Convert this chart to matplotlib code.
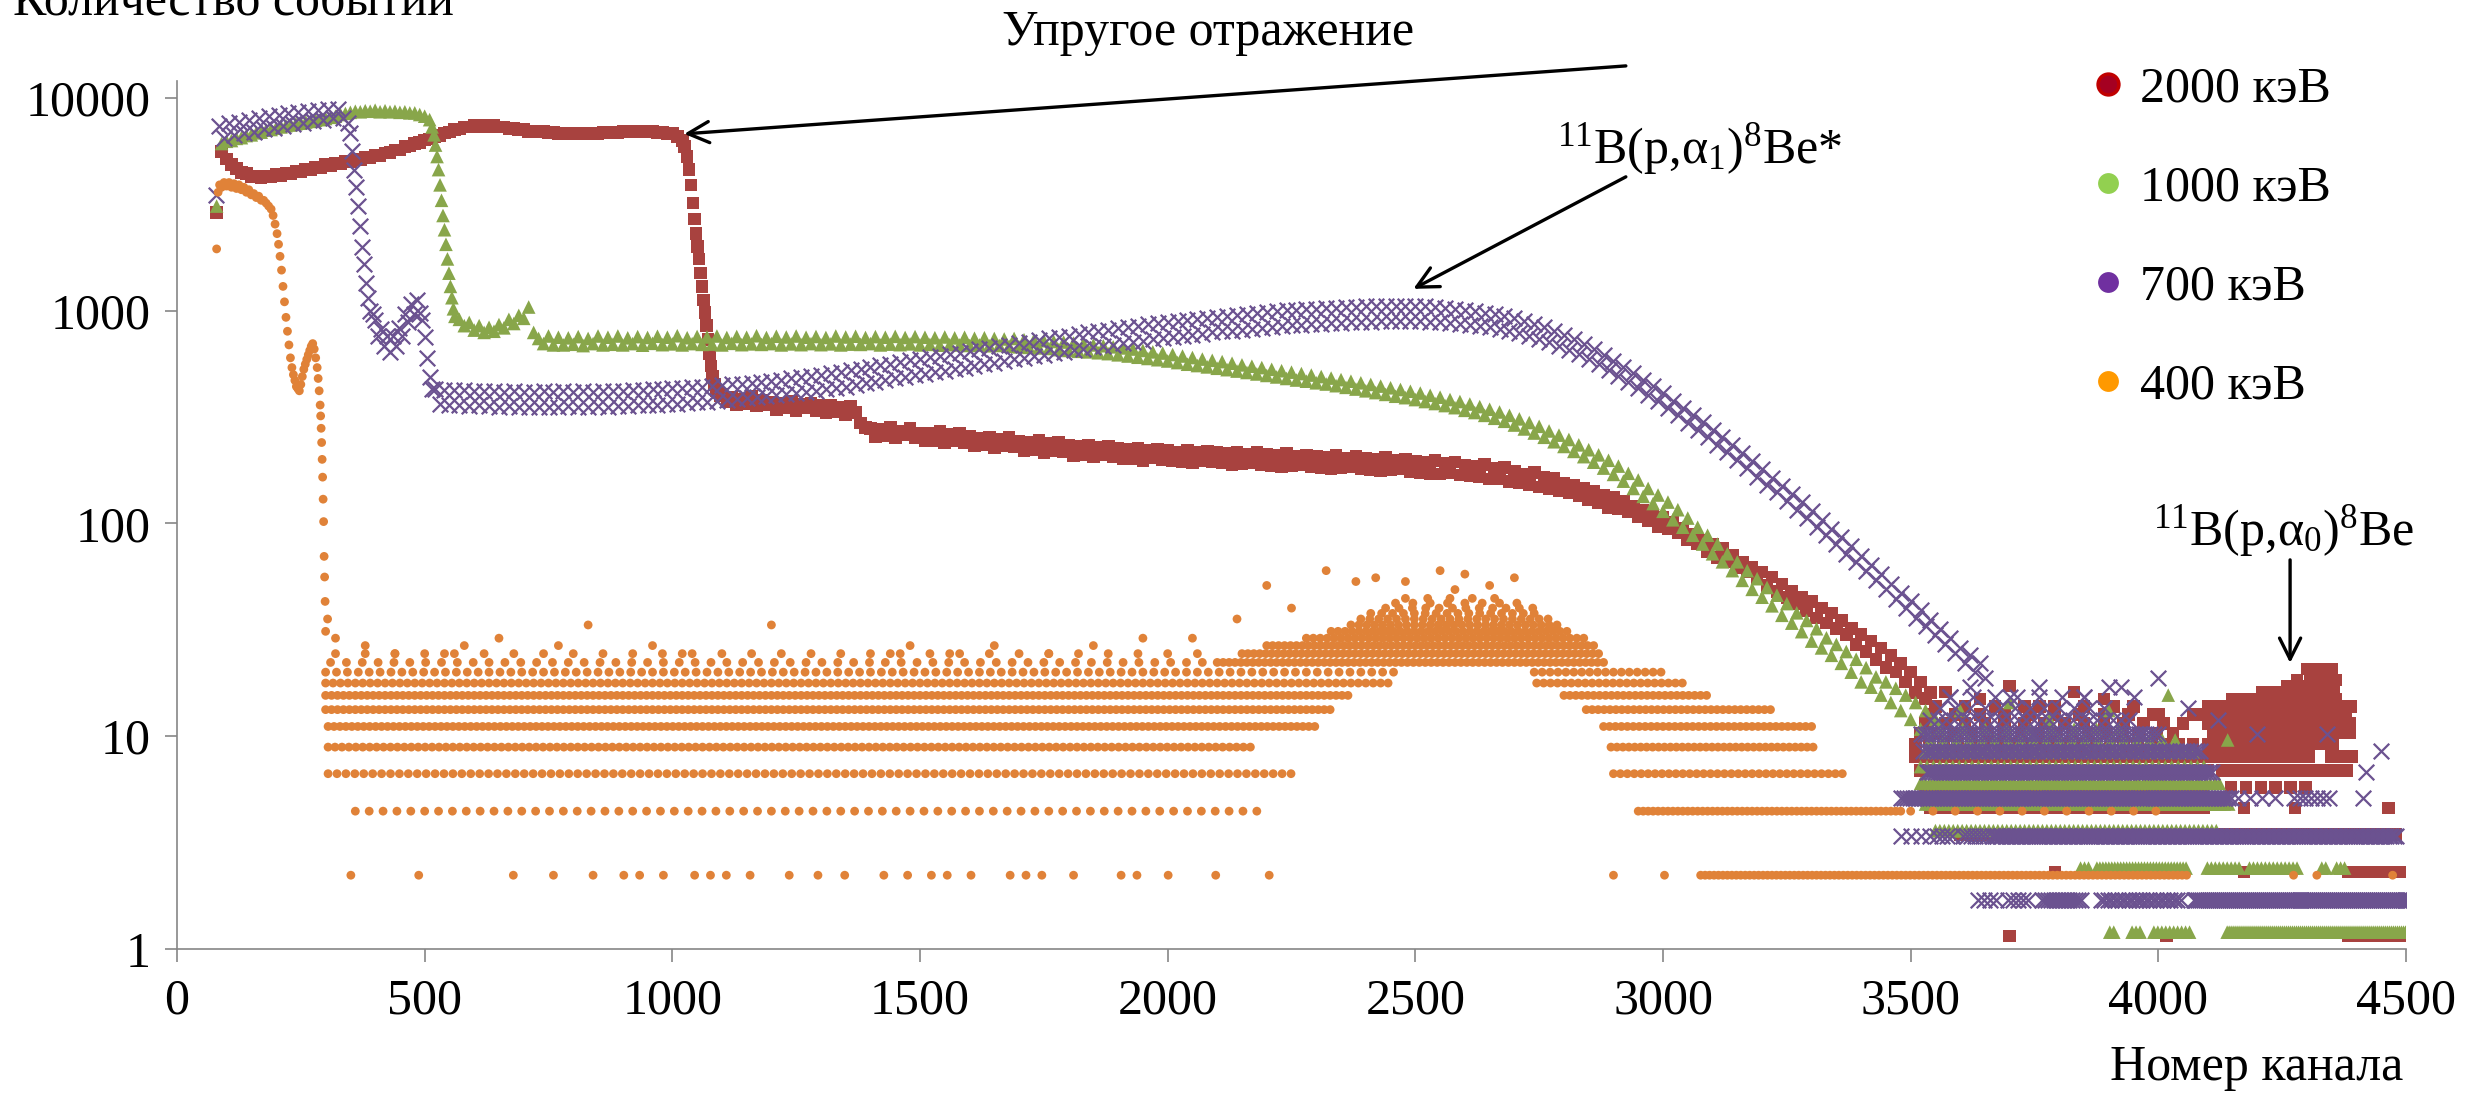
import numpy as np
import matplotlib
matplotlib.use("Agg")
import matplotlib.pyplot as plt
from matplotlib.lines import Line2D
from matplotlib.ticker import NullLocator

plt.rcParams['font.family'] = 'serif'
plt.rcParams['font.serif'] = ['Liberation Serif', 'DejaVu Serif']
plt.rcParams['mathtext.fontset'] = 'custom'
plt.rcParams['mathtext.rm'] = 'Liberation Serif'
plt.rcParams['mathtext.it'] = 'Liberation Serif'
plt.rcParams['mathtext.bf'] = 'Liberation Serif:bold'

# ---------------- data ----------------
series_labels = ['2000 кэВ', '1000 кэВ', '700 кэВ', '400 кэВ']
x_ticks = [0, 500, 1000, 1500, 2000, 2500, 3000, 3500, 4000, 4500]
y_ticks = [1, 10, 100, 1000, 10000]
y_tick_labels = ['1', '10', '100', '1000', '10000']

# ---- 2000 keV (counts per channel, channels in steps of 10) ----
e2000_first = [(80, 2900)]
e2000_a_start = 90
e2000_a = [5600, 5150, 4850, 4650, 4450, 4400, 4250, 4300, 4200, 4280,
           4250, 4350, 4300, 4420, 4400, 4520, 4500, 4620, 4600, 4720,
           4700, 4850, 4800, 4950, 4900, 5050, 5000, 5150, 5100, 5250,
           5250, 5400, 5350, 5500, 5550, 5700, 5700, 5900, 5950, 6100,
           6150, 6350, 6400, 6600, 6650, 6850, 6900, 7100, 7150, 7300,
           7300, 7450, 7350, 7450, 7350, 7400, 7300, 7300, 7150, 7200,
           7050, 7100, 6950, 7000, 6900, 6950, 6850, 6900, 6800, 6850,
           6750, 6800, 6750, 6850, 6800, 6850, 6800, 6900, 6850, 6900,
           6850, 6950, 6900, 6950, 6900, 6950, 6900, 6950, 6850, 6900,
           6800, 6800, 6600, 6300]
e2000_drop_ch = [1025, 1030, 1034, 1038, 1042, 1045, 1048, 1051, 1054, 1057, 1060,
                 1063, 1066, 1069, 1072, 1075, 1078, 1081, 1085, 1089, 1093, 1097]
e2000_drop = [5900, 5300, 4600, 3900, 3200, 2700, 2300, 2000, 1750, 1500, 1300,
              1120, 980, 850, 730, 630, 550, 490, 450, 420, 410, 400]
e2000_b_start = 1100
e2000_b = [405, 372, 392, 360, 385, 365, 395, 358, 380, 362,
           372, 342, 368, 348, 375, 338, 362, 350, 368, 340,
           358, 330, 360, 334, 352, 326, 356, 332, 296, 282,
           280, 256, 276, 258, 284, 252, 272, 260, 280, 254,
           266, 244, 264, 244, 270, 240, 262, 246, 266, 240,
           256, 232, 252, 234, 255, 228, 248, 232, 253, 229,
           243, 219, 241, 222, 245, 216, 237, 220, 241, 217,
           232, 209, 230, 211, 234, 206, 228, 211, 231, 206,
           225, 202, 223, 202, 226, 198, 220, 204, 223, 200,
           220, 197, 217, 195, 221, 193, 215, 198, 219, 195,
           215, 192, 213, 189, 217, 190, 211, 193, 215, 188,
           211, 187, 209, 185, 213, 186, 207, 189, 210, 184,
           207, 183, 205, 181, 209, 182, 203, 185, 206, 180,
           202, 179, 200, 177, 204, 178, 198, 180, 201, 175,
           195, 173, 193, 172, 197, 171, 191, 174, 194, 169,
           188, 167, 185, 165, 189, 162, 181, 163, 183, 157,
           175, 156, 171, 152, 173, 148, 165, 146, 163, 142,
           155, 139, 151, 135, 147, 129, 141, 125, 135, 119,
           133, 117, 127, 113, 121, 107, 115, 103, 108, 96,
           107, 94, 101, 90, 95, 84, 89, 80, 83, 74,
           80, 69, 76, 66, 71, 62, 66, 59, 62, 55,
           59, 51, 56, 48, 52, 45, 48, 42, 45, 39,
           43, 36, 40, 34, 38, 32, 35, 30, 32, 27,
           30, 25, 28, 23, 26, 21, 24, 20, 22, 18,
           20, 16, 18, 15, 16]
e2000_unit = 1.15
# rows of the quantized tail: (count, first channel, last channel, channel step)
e2000_rows = [(1, 4384, 4500, 6), (2, 4384, 4500, 8), (3, 3600, 4480, 16),
              (4, 3540, 4100, 24), (5, 3530, 4100, 20), (5, 4147, 4300, 30),
              (6, 3520, 4110, 20), (6, 4130, 4390, 25), (7, 3510, 4100, 24),
              (7, 4100, 4310, 12), (7, 4350, 4390, 20), (8, 3510, 4080, 28),
              (8, 4100, 4360, 12), (9, 3520, 4060, 34), (9, 4110, 4390, 12),
              (10, 3530, 4050, 40), (10, 4100, 4390, 11), (11, 3540, 4000, 50),
              (11, 4070, 4390, 14), (12, 3550, 3950, 60), (12, 4100, 4390, 16),
              (13, 4150, 4360, 16), (14, 4210, 4360, 18), (15, 4260, 4360, 18),
              (16, 4280, 4360, 26), (18, 4300, 4350, 25)]
e2000_single = [(3699, 1), (4017, 1), (3791, 2), (3990, 2), (4173, 2), (4173, 4),
                (4276, 4), (4465, 4), (3570, 14), (3640, 13), (3700, 15), (3760, 12),
                (3830, 14), (3890, 13), (3950, 12), (4000, 11)]

# ---- 1000 keV ----
e1000_first = [(80, 3100)]
e1000_a_start = 90
e1000_a = [6100, 6250, 6300, 6450, 6500, 6650, 6700, 6850, 6900, 7050,
           7100, 7200, 7300, 7400, 7450, 7550, 7600, 7700, 7750, 7850,
           7900, 8000, 8100, 8200, 8350, 8450, 8550, 8650, 8600, 8700,
           8650, 8750, 8600, 8700, 8600, 8650, 8550, 8600, 8500, 8500,
           8350, 8200, 7900]
e1000_drop_ch = [515, 519, 522, 525, 528, 531, 534, 537, 540, 543, 546, 549, 552, 555, 558, 561]
e1000_drop = [7300, 6700, 6000, 5300, 4600, 3900, 3300, 2800, 2400, 2050, 1750, 1500, 1300,
              1150, 1020, 940]
e1000_b_start = 570
e1000_b = [910, 850, 880, 810, 850, 790, 835, 800, 860, 830,
           910, 870, 950, 920, 1040, 790, 740, 700, 760, 690,
           750, 690, 745, 695, 755, 685, 740, 700, 760, 690,
           750, 695, 760, 690, 745, 700, 755, 688, 748, 702,
           758, 692, 750, 698, 762, 690, 746, 700, 756, 694,
           752, 696, 760, 690, 748, 702, 756, 692, 750, 698,
           762, 694, 748, 700, 758, 690, 752, 698, 760, 692,
           750, 700, 756, 692, 748, 698, 760, 690, 752, 696,
           758, 694, 748, 700, 755, 690, 750, 696, 757, 692,
           748, 698, 755, 690, 750, 694, 746, 688, 752, 692,
           745, 690, 750, 686, 742, 690, 746, 684, 740, 686,
           736, 680, 740, 676, 730, 672, 726, 668, 722, 664,
           716, 656, 712, 650, 704, 644, 698, 640, 690, 634,
           684, 628, 676, 620, 668, 612, 660, 604, 650, 596,
           640, 588, 632, 580, 622, 570, 612, 560, 602, 552,
           592, 544, 584, 536, 576, 528, 566, 520, 556, 512,
           548, 504, 540, 496, 530, 488, 522, 480, 514, 472,
           506, 466, 498, 458, 490, 452, 482, 444, 474, 436,
           466, 428, 458, 420, 450, 412, 442, 404, 434, 396,
           426, 390, 418, 382, 410, 374, 400, 366, 392, 358,
           382, 350, 374, 340, 364, 332, 354, 322, 344, 312,
           334, 302, 322, 290, 310, 278, 298, 266, 286, 254,
           272, 242, 260, 230, 248, 218, 234, 206, 222, 194,
           210, 182, 198, 170, 186, 158, 172, 146, 160, 134,
           146, 124, 136, 114, 126, 104, 116, 96, 106, 88,
           96, 80, 88, 72, 80, 66, 72, 60, 66, 54,
           60, 49, 55, 45, 50, 41, 46, 37, 42, 34,
           38, 31, 35, 28, 32, 26, 29, 24, 27, 22,
           25, 20, 23, 18, 21, 17, 19, 15.6, 18, 14.4,
           16.8, 13.2, 15.6, 12, 14.4, 10.8, 13.2, 9.6, 12]
e1000_unit = 1.2
e1000_rows = [(1, 3902, 3917, 8), (1, 3947, 3969, 8), (1, 3991, 4065, 8), (1, 4139, 4506, 4),
              (2, 3843, 3865, 8), (2, 3876, 4058, 6), (2, 4099, 4169, 8), (2, 4184, 4287, 8),
              (2, 4330, 4345, 8), (2, 4360, 4380, 8), (3, 3550, 4120, 9), (4, 3530, 4150, 9),
              (5, 3520, 4130, 9), (6, 3520, 4100, 13), (7, 3530, 4080, 18), (8, 3540, 4050, 26),
              (9, 3560, 3950, 45)]
e1000_single = [(3600, 11), (3700, 12), (3780, 10), (3900, 11), (4140, 8), (4020, 13)]

# ---- 700 keV ----
e700_first = [(78, 3500)]
e700_a_start = 85
e700_a = [7400, 6500, 7600, 6700, 7700, 6800, 7900, 6900, 8000, 7100,
          8200, 7200, 8300, 7400, 8500, 7500, 8600, 7600, 8700, 7800,
          8800, 7900, 8900, 8000, 8900, 8000, 7600]
e700_drop_ch = [350, 354, 358, 362, 366, 370, 374, 378, 382, 386, 390, 395, 400, 406, 412, 418,
                424, 430, 436, 442, 448, 454, 460, 466, 472, 478, 484, 490, 495, 500, 505, 510, 515]
e700_drop = [6800, 5600, 4600, 3800, 3100, 2500, 2000, 1650, 1350, 1150, 1000, 960, 900, 760,
             820, 680, 760, 640, 760, 680, 830, 760, 960, 880, 1080, 960, 1120, 980, 900, 750,
             600, 490, 430]
e700_b_start = 520
e700_b = [430, 365, 425, 362, 422, 360, 424, 358, 420, 360,
          418, 356, 420, 354, 416, 356, 418, 352, 416, 354,
          414, 354, 418, 352, 416, 354, 418, 356, 414, 352,
          418, 354, 416, 356, 420, 354, 418, 358, 420, 356,
          424, 360, 422, 362, 428, 362, 426, 366, 432, 366,
          432, 370, 436, 372, 438, 374, 442, 378, 446, 380,
          450, 384, 454, 388, 458, 392, 464, 396, 468, 400,
          474, 404, 480, 410, 486, 416, 494, 420, 500, 426,
          508, 434, 516, 440, 526, 448, 534, 456, 544, 464,
          554, 472, 564, 480, 574, 488, 584, 498, 594, 506,
          604, 514, 614, 522, 624, 530, 634, 540, 646, 550,
          658, 560, 668, 570, 680, 580, 692, 590, 704, 600,
          716, 610, 728, 620, 740, 630, 752, 640, 764, 650,
          776, 662, 790, 672, 802, 682, 814, 692, 826, 702,
          838, 712, 850, 722, 862, 732, 872, 742, 884, 752,
          896, 762, 906, 772, 918, 780, 928, 790, 938, 798,
          948, 806, 958, 814, 968, 822, 976, 830, 986, 838,
          994, 846, 1002, 852, 1010, 858, 1016, 864, 1022, 870,
          1028, 874, 1034, 878, 1038, 882, 1042, 886, 1046, 888,
          1048, 890, 1050, 892, 1052, 892, 1052, 892, 1050, 890,
          1046, 888, 1040, 884, 1032, 878, 1022, 870, 1010, 860,
          996, 848, 980, 834, 962, 818, 942, 802, 920, 782,
          894, 760, 866, 736, 836, 710, 804, 684, 770, 654,
          734, 624, 696, 592, 658, 560, 620, 528, 582, 494,
          544, 462, 508, 432, 474, 402, 442, 376, 410, 348,
          378, 322, 350, 298, 324, 276, 300, 254, 276, 234,
          254, 216, 234, 198, 214, 182, 196, 166, 180, 152,
          164, 140, 150, 128, 138, 116, 126, 106, 114, 96,
          104, 88, 94, 80, 86, 72, 78, 66, 70, 60,
          64, 54, 58, 49, 52, 44, 47, 40, 43, 36,
          39, 33, 35, 30, 32, 27, 29, 24.5, 26, 22,
          24, 20, 22, 18.7]
e700_unit = 1.7
e700_rows = [(1, 3636, 3680, 12), (1, 3696, 3741, 10), (1, 3765, 3843, 6), (1, 3884, 4050, 7),
             (1, 4073, 4510, 4), (2, 3480, 3540, 20), (2, 3554, 3584, 10), (2, 3606, 3658, 8),
             (2, 3665, 4480, 5), (3, 3480, 4147, 6), (3, 4160, 4240, 25), (3, 4273, 4354, 12),
             (4, 3532, 4110, 6), (5, 3525, 4090, 7), (6, 3520, 4000, 8), (7, 3540, 3950, 16),
             (8, 3560, 3900, 30), (9, 3580, 3850, 45)]
e700_single = [(4413, 3), (4420, 4), (3580, 9), (3620, 10), (3700, 9), (3760, 10), (3850, 9),
               (3900, 10), (3925, 10), (3950, 9), (3999, 11), (4060, 8), (4120, 7), (4200, 6),
               (4340, 6), (4450, 5)]

# ---- 400 keV ----
e400_first = [(80, 1950)]
e400_a_ch = [83, 86, 90, 95, 100, 105, 110, 115, 120, 125, 130, 135, 140, 145, 150, 155, 160,
             165, 170, 175, 180, 185, 190, 194, 198, 202, 205, 208, 211, 214, 217, 220, 223,
             226, 229, 232, 235, 238, 241, 244, 247, 250, 253, 256, 259, 262, 265, 268, 271,
             274, 277, 280, 283, 285, 287, 289, 290, 291, 292, 293, 294, 295, 296, 297, 298, 299]
e400_a = [3600, 3900, 3800, 4000, 3850, 4000, 3800, 3950, 3750, 3900, 3700, 3800, 3600, 3700,
          3500, 3550, 3400, 3450, 3300, 3300, 3200, 3100, 3000, 2800, 2550, 2300, 2050, 1800,
          1550, 1300, 1100, 930, 800, 690, 600, 540, 500, 470, 440, 430, 420, 450, 490, 530,
          560, 590, 620, 650, 680, 700, 660, 600, 540, 480, 420, 360, 320, 280, 240, 200, 165,
          130, 102, 70, 56, 43]
e400_unit = 2.222
e400_rows = [(2, 360, 2200, 28), (3, 305, 2260, 18), (4, 305, 2170, 14), (5, 305, 2300, 12),
             (6, 300, 2330, 12), (7, 300, 2370, 12), (8, 300, 2450, 15), (9, 300, 2460, 22),
             (10, 310, 2100, 32), (11, 320, 2100, 60),
             (10, 2100, 2880, 12), (11, 2150, 2880, 12), (12, 2200, 2860, 12),
             (13, 2280, 2840, 14), (14, 2330, 2810, 14), (15, 2370, 2790, 16),
             (16, 2390, 2770, 18), (17, 2410, 2760, 22), (18, 2440, 2740, 27),
             (19, 2460, 2720, 35), (20, 2480, 2700, 45),
             (9, 2740, 3000, 16), (8, 2745, 3050, 14), (7, 2800, 3095, 12), (6, 2845, 3225, 12),
             (5, 2880, 3300, 12), (4, 2895, 3310, 12), (3, 2900, 3364, 14), (2, 2950, 3485, 10),
             (2, 3500, 4030, 45), (1, 3076, 4060, 9)]
e400_single = [(351, 1), (488, 1), (679, 1), (760, 1), (840, 1), (902, 1), (934, 1), (982, 1),
               (1045, 1), (1077, 1), (1109, 1), (1157, 1), (1236, 1), (1294, 1), (1348, 1),
               (1427, 1), (1475, 1), (1523, 1), (1555, 1), (1603, 1), (1682, 1), (1714, 1),
               (1746, 1), (1810, 1), (1906, 1), (1938, 1), (2001, 1), (2097, 1), (2205, 1),
               (2900, 1), (3003, 1), (4273, 1), (4320, 1), (4473, 1),
               (300, 14), (304, 16), (320, 13), (380, 12), (440, 11), (540, 11), (580, 12),
               (650, 13), (770, 12), (830, 15), (960, 12), (1020, 11), (1200, 15), (1440, 11),
               (1480, 12), (1560, 11), (1650, 12), (1760, 11), (1850, 12), (1950, 13),
               (2050, 13), (2140, 16), (2200, 23), (2250, 18), (2320, 27), (2380, 24),
               (2420, 25), (2480, 24), (2550, 27), (2580, 22), (2600, 26), (2650, 23),
               (2700, 25)]


# ---------------- helpers ----------------
def band(start, vals):
    ch = np.arange(start, start + 10 * len(vals), 10)
    return ch, np.asarray(vals, dtype=float)


def rows(rowlist, unit):
    xs, ys = [], []
    for n, a, b, step in rowlist:
        ch = np.arange(a, b + 1, step)
        xs.append(ch)
        ys.append(np.full(len(ch), n * unit))
    return np.concatenate(xs), np.concatenate(ys)


def singles(lst, unit):
    return np.array([c for c, n in lst]), np.array([n * unit for c, n in lst])


def pts(lst):
    return np.array([c for c, v in lst]), np.array([v for c, v in lst], dtype=float)


def collect(parts):
    return np.concatenate([p[0] for p in parts]), np.concatenate([p[1] for p in parts])


x2000, y2000 = collect([pts(e2000_first), band(e2000_a_start, e2000_a),
                        (np.array(e2000_drop_ch), np.array(e2000_drop, float)),
                        band(e2000_b_start, e2000_b), rows(e2000_rows, e2000_unit),
                        singles(e2000_single, e2000_unit)])
x1000, y1000 = collect([pts(e1000_first), band(e1000_a_start, e1000_a),
                        (np.array(e1000_drop_ch), np.array(e1000_drop, float)),
                        band(e1000_b_start, e1000_b), rows(e1000_rows, e1000_unit),
                        singles(e1000_single, e1000_unit)])
x700, y700 = collect([pts(e700_first), band(e700_a_start, e700_a),
                      (np.array(e700_drop_ch), np.array(e700_drop, float)),
                      band(e700_b_start, e700_b), rows(e700_rows, e700_unit),
                      singles(e700_single, e700_unit)])
x400, y400 = collect([pts(e400_first), (np.array(e400_a_ch), np.array(e400_a, float)),
                      rows(e400_rows, e400_unit), singles(e400_single, e400_unit)])

# ---------------- figure ----------------
W, H = 2476, 1096
fig = plt.figure(figsize=(W / 100, H / 100), dpi=100)
ax = fig.add_axes([177 / W, 147 / H, (2406 - 177) / W, (949 - 81) / H])

c2000, c1000, c700, c400 = '#A8423F', '#88A64A', '#6B5290', '#E08238'
ax.scatter(x2000, y2000, marker='s', s=82, color=c2000, edgecolors='none', zorder=2)
ax.scatter(x1000, y1000, marker='^', s=96, color=c1000, edgecolors='none', zorder=3)
ax.scatter(x700, y700, marker='x', s=125, color=c700, linewidths=1.6, zorder=4)
ax.scatter(x400, y400, marker='o', s=40, color=c400, edgecolors='none', zorder=5)

ax.set_yscale('log')
ax.set_xlim(0, 4500)
ax.set_ylim(1, 12000)
ax.set_xticks(x_ticks)
ax.set_xticklabels([str(t) for t in x_ticks])
ax.set_yticks(y_ticks)
ax.set_yticklabels(y_tick_labels)
ax.yaxis.set_minor_locator(NullLocator())
for s in ['top', 'right']:
    ax.spines[s].set_visible(False)
for s in ['left', 'bottom']:
    ax.spines[s].set_color('#868686')
    ax.spines[s].set_linewidth(1.2)
ax.tick_params(axis='both', which='major', direction='out', length=9, width=1.2,
               color='#868686', labelsize=36, labelcolor='black')
ax.tick_params(axis='x', pad=12)
ax.tick_params(axis='y', pad=10)

# legend
lg_colors = [('#A50021', '#C00000', 2.5), ('#92D050', '#92D050', 0),
             ('#7030A0', '#7030A0', 0), ('#FF9900', '#FF9900', 0)]
handles = [Line2D([], [], linestyle='none', marker='o', markersize=15,
                  markerfacecolor=fc, markeredgecolor=ec, markeredgewidth=ew)
           for fc, ec, ew in lg_colors]
ax.legend(handles, series_labels, loc='upper left', bbox_to_anchor=(2088 / W, 1 - 66 / H),
          bbox_transform=fig.transFigure, frameon=False, fontsize=36, handlelength=0.8,
          handletextpad=0.25, labelspacing=1.05, borderpad=0, borderaxespad=0)

# texts
fig.text(13 / W, 1 - 16 / H, 'Количество событий', ha='left', va='baseline', fontsize=36)
fig.text(2403 / W, 1 - 1080 / H, 'Номер канала', ha='right', va='baseline', fontsize=36)
fig.text(1208 / W, 1 - 45 / H, 'Упругое отражение', ha='center', va='baseline', fontsize=36)
fig.text(1700 / W, 1 - 163 / H, r'$^{11}$B(p,α$_1$)$^{8}$Be*', ha='center', va='baseline',
         fontsize=36)
fig.text(2283 / W, 1 - 545 / H, r'$^{11}$B(p,α$_0$)$^{8}$Be', ha='center', va='baseline',
         fontsize=36)

arrow = dict(arrowstyle='->', lw=2.4, color='black', mutation_scale=38, shrinkA=0, shrinkB=0)
ax.annotate('', xy=(1024, 6770), xytext=(2925, 14130), arrowprops=arrow, annotation_clip=False)
ax.annotate('', xy=(2496, 1266), xytext=(2925, 4254), arrowprops=arrow, annotation_clip=False)
ax.annotate('', xy=(4266, 22.1), xytext=(4266, 67.4), arrowprops=arrow, annotation_clip=False)

fig.savefig('out.png', dpi=100)
